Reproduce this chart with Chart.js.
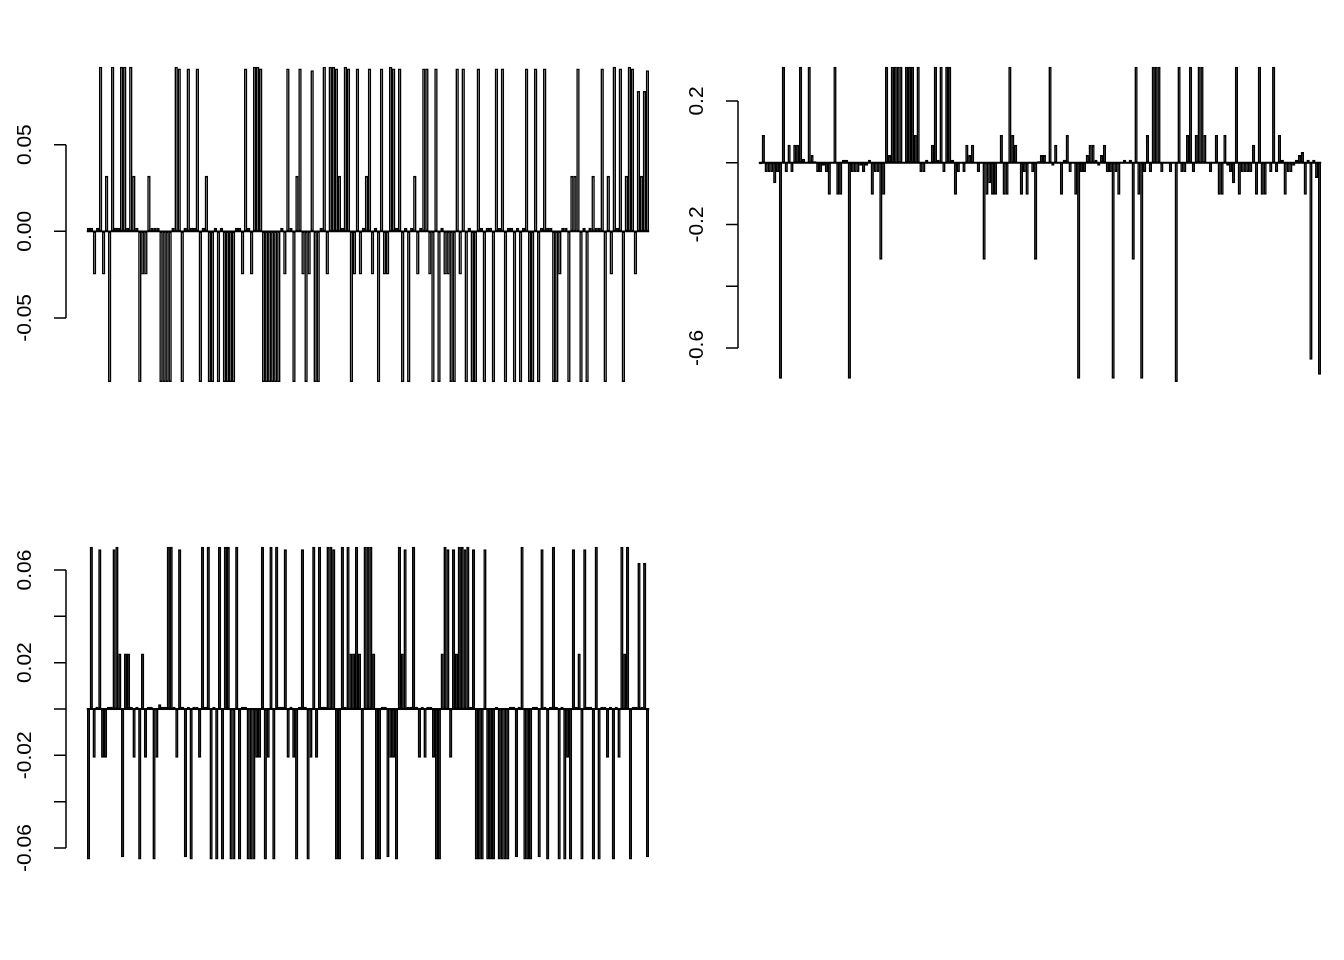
<!DOCTYPE html>
<html>
<head>
<meta charset="utf-8">
<script src="https://cdn.jsdelivr.net/npm/chart.js@4.4.1/dist/chart.umd.min.js"></script>
<style>
html,body{margin:0;padding:0;background:#fff;}
body{width:1344px;height:960px;position:relative;overflow:hidden;}
.pan{position:absolute;width:672px;height:480px;}
</style>
</head>
<body>
<div class="pan" style="left:0;top:0"><canvas id="c1" width="672" height="480"></canvas></div>
<div class="pan" style="left:672px;top:0"><canvas id="c2" width="672" height="480"></canvas></div>
<div class="pan" style="left:0;top:480px"><canvas id="c3" width="672" height="480"></canvas></div>
<script>
// ---- Panel 1 values ----
const series1 = [
0.002,0.002,-0.025,0.002,0.095,-0.025,0.032,-0.087,0.095,0.002,0.002,0.095,0.095,0.002,0.095,0.032,0.002,-0.087,-0.025,-0.025,0.032,0.002,0.002,0.002,-0.087,-0.087,-0.087,-0.087,0.002,0.095,0.094,-0.087,0.002,0.094,0.002,0.002,0.094,-0.087,0.002,0.032,-0.087,-0.087,0.002,-0.087,0.002,-0.087,-0.087,-0.087,-0.087,0.002,0.002,-0.025,0.094,0.002,-0.025,0.095,0.095,0.094,
-0.087,-0.087,-0.087,-0.087,-0.087,-0.087,
0.002,-0.025,0.094,0.002,-0.087,0.032,0.094,-0.025,-0.087,-0.025,0.093,-0.087,-0.087,0.002,0.095,-0.025,0.095,0.095,0.094,0.032,0.002,0.095,0.094,-0.087,-0.025,0.094,-0.025,0.002,0.032,0.094,-0.025,0.002,-0.087,0.094,-0.025,-0.025,0.095,0.094,0.002,0.094,-0.087,0.002,-0.087,0.002,0.032,-0.025,0.002,0.094,0.094,-0.025,-0.087,0.094,-0.087,0.002,-0.025,-0.025,-0.087,-0.087,0.094,-0.025,
0.094,-0.087,0.002,-0.087,-0.087,0.094,0.002,-0.087,0.002,0.002,-0.087,0.094,0.002,0.094,-0.087,0.002,0.002,-0.087,0.002,-0.087,0.002,0.094,-0.087,-0.087,0.094,-0.087,0.002,0.094,0.002,0.002,-0.087,-0.087,-0.025,0.002,0.002,-0.087,0.032,0.032,0.094,-0.087,0.002,-0.087,0.002,0.032,0.002,0.002,0.094,-0.087,0.032,-0.025,0.095,0.002,0.094,-0.087,0.032,0.095,0.094,-0.025,0.081,0.032,0.081,0.093
];
const ticks1 = [-0.05, 0, 0.05];
const tickLabels1 = ["-0.05", "0.00", "0.05"];
const range1 = [-0.0937, 0.1020];

// ---- Panel 2 values ----
const series2 = [
-0.005,0.09,-0.03,-0.03,-0.03,-0.066,-0.03,-0.70,0.311,-0.03,0.058,-0.03,0.058,0.058,0.311,0.013,0,0.311,0.025,0.005,-0.03,-0.03,-0.01,-0.03,-0.104,0,0.311,-0.104,-0.104,0.01,0.01,-0.70,-0.03,-0.03,-0.03,-0.01,-0.03,-0.01,0.01,-0.104,-0.03,-0.03,-0.314,-0.104,0.311,0.025,0.311,0.311,0.311,0.311,0,0.311,0.311,0.311,0.09,0.311,-0.03,-0.03,0.01,0,0.058,0.311,
0.01,0.311,-0.03,0.311,0.311,0.01,-0.104,-0.03,0,-0.03,0.058,0.025,0.058,0,-0.03,0,-0.314,-0.104,-0.066,-0.104,-0.104,0,0.09,-0.104,-0.104,0.311,0.09,0.058,0,-0.104,-0.03,-0.104,0,-0.03,-0.314,0.005,0.025,0.025,0,0.311,-0.01,0.058,0,-0.104,0.01,0.09,-0.03,0,-0.104,-0.70,-0.03,-0.03,0.025,0.058,0.058,0.01,-0.01,0.025,0.058,-0.03,-0.03,-0.70,-0.03,-0.104,0,0.01,0,0.01,
-0.314,0.311,-0.104,-0.70,-0.03,0.09,-0.03,0.311,0.311,0.311,-0.03,0,0,-0.03,0,-0.71,0.311,-0.03,-0.03,0.09,0.311,-0.03,0.09,0.311,0.311,0.09,0,-0.03,0,0.09,-0.104,-0.104,0.09,-0.01,-0.03,-0.066,0.311,-0.104,-0.03,-0.03,-0.03,-0.03,0.058,-0.104,0.311,-0.104,-0.104,0,-0.03,0.311,-0.03,0.09,0.01,-0.104,-0.03,-0.03,-0.01,0.01,0.025,0.035,-0.104,0.01,-0.638,0.01,-0.049,-0.687
];
const ticks2 = [-0.6, -0.4, -0.2, 0, 0.2];
const tickLabels2 = ["-0.6", "", "-0.2", "", "0.2"];
const range2 = [-0.7477, 0.3503];

// ---- Panel 3 values ----
const series3 = [
-0.065,0.07,-0.021,0.001,0.069,-0.021,-0.021,0.001,0.001,0.069,0.07,0.024,-0.064,0.024,0.024,0.001,-0.021,0.001,-0.065,0.024,-0.021,0.001,0.001,-0.065,-0.021,0.002,0.001,0.001,0.07,0.07,0.001,-0.021,0.069,0.001,-0.064,0.001,-0.065,0.001,0.001,-0.021,0.07,0.001,0.07,-0.065,0.001,-0.065,0.07,-0.065,0.07,0.07,-0.065,-0.065,0.07,-0.065,0.001,0.001,-0.065,-0.065,-0.065,-0.021,-0.021,0.07,-0.065,-0.021,0.07,-0.065,0.07,
0.001,0.001,0.069,-0.021,0.001,-0.021,-0.065,0.001,0.069,0.001,-0.065,-0.021,0.07,-0.021,0.07,0.001,0.001,0.07,0.07,0.069,-0.065,-0.065,0.07,0.001,0.07,0.024,0.024,0.07,0.024,-0.065,0.07,0.07,0.07,0.024,-0.065,-0.065,0.001,0.001,-0.064,-0.021,-0.021,-0.065,0.07,0.024,0.069,0.001,0.001,0.07,0.001,-0.021,0.001,-0.021,0.001,0.001,-0.021,-0.065,-0.065,0.024,0.07,0.069,-0.021,0.069,0.024,0.07,0.07,0.069,0.07,
0.001,0.069,-0.065,-0.065,-0.065,0.069,-0.065,-0.065,-0.065,0.001,-0.065,-0.065,-0.065,-0.065,0.001,0.001,-0.064,0.001,0.07,-0.065,-0.065,-0.065,0.001,0.001,-0.064,0.069,0.001,-0.065,0.001,0.07,0.001,-0.065,0.001,-0.065,-0.021,-0.065,0.069,0.001,0.024,-0.065,0.069,0.001,0.001,-0.065,0.07,-0.065,0.001,0.001,-0.021,0.001,-0.065,0.001,-0.021,0.07,0.024,0.07,-0.065,0.001,0.001,0.063,0.001,0.063,-0.064
];
const ticks3 = [-0.06, -0.04, -0.02, 0, 0.02, 0.04, 0.06];
const tickLabels3 = ["-0.06", "", "-0.02", "", "0.02", "", "0.06"];
const range3 = [-0.07105, 0.07528];

// ---- R-style axis + baseline plugin ----
const rAxis = {
  id: 'rAxis',
  afterDatasetsDraw(chart, args, opts) {
    const ctx = chart.ctx;
    const ys = chart.scales.y;
    const meta = chart.getDatasetMeta(0);
    ctx.save();
    const first = meta.data[0], last = meta.data[meta.data.length - 1];
    const y0 = ys.getPixelForValue(0);
    ctx.strokeStyle = '#000';
    ctx.lineWidth = 1.8;
    ctx.beginPath();
    ctx.moveTo(first.x - first.width / 2, y0);
    ctx.lineTo(last.x + last.width / 2, y0);
    ctx.stroke();
    const ax = opts.axisX;
    const tv = opts.ticks;
    const yA = ys.getPixelForValue(tv[0]);
    const yB = ys.getPixelForValue(tv[tv.length - 1]);
    ctx.lineWidth = 1.5;
    ctx.beginPath();
    ctx.moveTo(ax, yA);
    ctx.lineTo(ax, yB);
    tv.forEach(v => {
      const y = ys.getPixelForValue(v);
      ctx.moveTo(ax, y);
      ctx.lineTo(ax - 12, y);
    });
    ctx.stroke();
    ctx.fillStyle = '#000';
    ctx.font = '21px "Liberation Sans", Arial, sans-serif';
    ctx.textAlign = 'center';
    ctx.textBaseline = 'alphabetic';
    tv.forEach((v, i) => {
      const lab = opts.labels[i];
      if (!lab) return;
      const y = ys.getPixelForValue(v);
      ctx.save();
      ctx.translate(ax - 35, y);
      ctx.rotate(-Math.PI / 2);
      ctx.fillText(lab, 0, 0);
      ctx.restore();
    });
    ctx.restore();
  }
};

function makeChart(id, series, range, ticks, labels) {
  new Chart(document.getElementById(id), {
    type: 'bar',
    data: {
      labels: series.map((_, i) => String(i + 1)),
      datasets: [{
        data: series,
        backgroundColor: '#bebebe',
        borderColor: '#000000',
        borderWidth: 1.6,
        borderSkipped: false,
        inflateAmount: 0,
        barPercentage: 1.15,
        categoryPercentage: 1.0
      }]
    },
    options: {
      responsive: false,
      animation: false,
      devicePixelRatio: 1,
      events: [],
      layout: { padding: { left: 87, right: 23, top: 54.6, bottom: 86.4 } },
      plugins: {
        legend: { display: false },
        tooltip: { enabled: false },
        rAxis: { axisX: 66, ticks: ticks, labels: labels }
      },
      scales: {
        x: { display: false, offset: true },
        y: { display: false, min: range[0], max: range[1] }
      }
    },
    plugins: [rAxis]
  });
}

makeChart('c1', series1, range1, ticks1, tickLabels1);
makeChart('c2', series2, range2, ticks2, tickLabels2);
makeChart('c3', series3, range3, ticks3, tickLabels3);
</script>
</body>
</html>
